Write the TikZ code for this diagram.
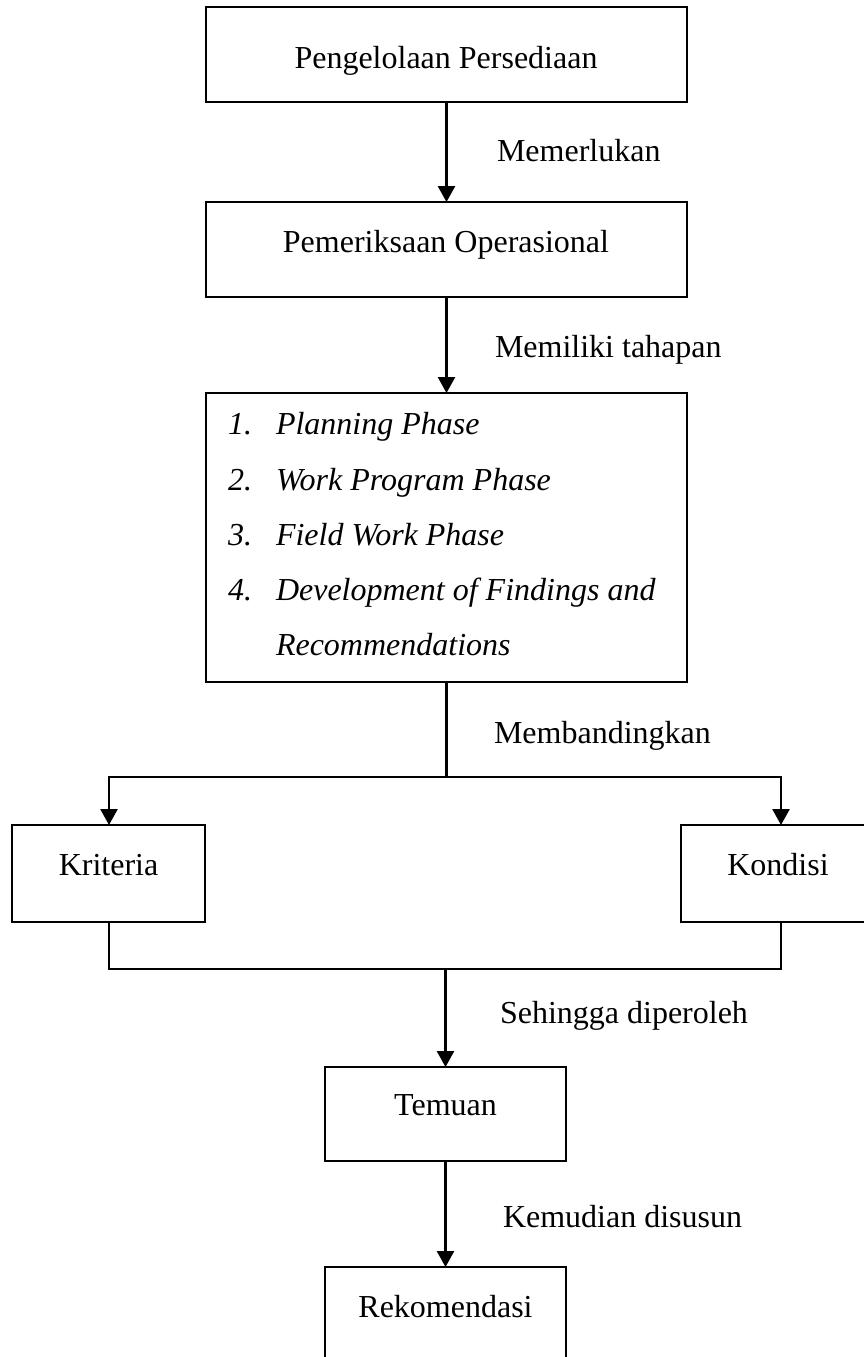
\documentclass[tikz,border=0pt]{standalone}
\usepackage{fontspec}
\setmainfont{Liberation Serif}
\usetikzlibrary{arrows.meta}
\begin{document}
\begin{tikzpicture}[x=1pt,y=-1pt,
  box/.style={draw=black,line width=2.8pt,rectangle,inner sep=0pt,outer sep=0pt},
  txt/.style={inner sep=0pt,outer sep=0pt,anchor=base,font=\fontsize{32}{38}\selectfont},
  ltxt/.style={txt,anchor=base west},
  conn/.style={line width=2.6pt},
  arr/.style={conn,-{Triangle[width=17pt,length=16pt]}}]
\useasboundingbox (0,0) rectangle (864,1357);
% boxes
\node[box,minimum width=481pt,minimum height=95pt] (b1) at (446.5,54.5) {};
\node[box,minimum width=481pt,minimum height=95pt] (b2) at (446.5,249.5) {};
\node[box,minimum width=481pt,minimum height=289pt] (b3) at (446.5,537.5) {};
\node[box,minimum width=193pt,minimum height=97pt] (krit) at (108.5,873.5) {};
\node[box,minimum width=195pt,minimum height=97pt] (kond) at (778.5,873.5) {};
\node[box,minimum width=241pt,minimum height=94pt] (tem) at (445.5,1114) {};
\node[box,minimum width=241pt,minimum height=95pt] (rek) at (445.5,1314.5) {};
% box texts
\node[txt] (t1) at (446,68) {Pengelolaan Persediaan};
\node[txt] (t2) at (446,252) {Pemeriksaan Operasional};
\node[ltxt] (n1) at (228,434) {\itshape 1.};
\node[ltxt] (l1) at (276,434) {\itshape Planning Phase};
\node[ltxt] (n2) at (228,490) {\itshape 2.};
\node[ltxt] (l2) at (276,490) {\itshape Work Program Phase};
\node[ltxt] (n3) at (228,545) {\itshape 3.};
\node[ltxt] (l3) at (276,545) {\itshape Field Work Phase};
\node[ltxt] (n4) at (228,600) {\itshape 4.};
\node[ltxt] (l4) at (276,600) {\itshape Development of Findings and};
\node[ltxt] (l5) at (276,655) {\itshape Recommendations};
\node[txt] (tk) at (108.5,875) {Kriteria};
\node[txt] (tc) at (778,875) {Kondisi};
\node[txt] (tt) at (445.5,1115) {Temuan};
\node[txt] (tr) at (445.5,1317) {Rekomendasi};
% connector labels
\node[ltxt] (c1) at (497,161) {Memerlukan};
\node[ltxt] (c2) at (495,357) {Memiliki tahapan};
\node[ltxt] (c3) at (494,743) {Membandingkan};
\node[ltxt] (c4) at (500,1023) {Sehingga diperoleh};
\node[ltxt] (c5) at (503,1227) {Kemudian disusun};
% coordinates
\coordinate (split) at (446.5,777);
\coordinate (sl) at (109,777);
\coordinate (sr) at (781,777);
\coordinate (ml) at (109,969);
\coordinate (mr) at (781,969);
\coordinate (mm) at (445.5,969);
% connectors
\draw[arr] (b1.south) -- (b2.north);
\draw[arr] (b2.south) -- (b3.north);
\draw[conn] (b3.south) -- (split);
\draw[conn,line cap=rect] (sl) -- (sr);
\draw[arr] (sl) -- (sl |- krit.north);
\draw[arr] (sr) -- (sr |- kond.north);
\draw[conn] (ml |- krit.south) -- (ml);
\draw[conn] (mr |- kond.south) -- (mr);
\draw[conn,line cap=rect] (ml) -- (mr);
\draw[arr] (mm) -- (tem.north);
\draw[arr] (tem.south) -- (rek.north);
\end{tikzpicture}
\end{document}
